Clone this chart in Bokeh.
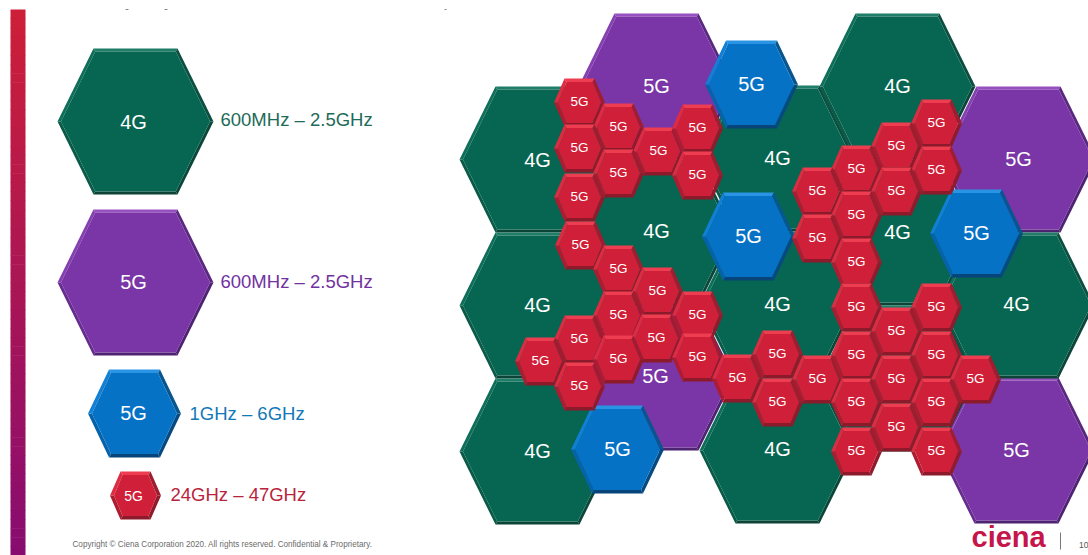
from bokeh.plotting import figure
from bokeh.models import Range1d, ColumnDataSource
from bokeh.core.properties import value
from bokeh.embed import file_html
from bokeh.resources import INLINE

# Centres of the cells
purple_x = [656, 1018, 656, 1016]
purple_y = [86, 159, 377, 450]
green_x = [537, 777, 897, 656, 897, 537, 777, 1016, 537, 777, 897]
green_y = [159, 158, 86, 232, 232, 305, 304, 305, 451, 450, 378]
green_label_x = [537, 777, 897, 656, 897, 537, 777, 1016, 537, 777]
green_label_y = [160, 158, 86, 231, 232, 305, 304, 304, 451, 449]
purple_label_x = [656, 1018, 655, 1016]
purple_label_y = [86, 159, 376, 450]
blue_x = [751, 748, 976, 617]
blue_y = [84, 236, 233, 449]
red_x = [579, 618, 579, 658, 697, 618, 697, 579, 580, 618, 657, 618, 697, 579, 656,
         540, 618, 697, 579, 737, 777, 817, 777,
         936, 896, 856, 817, 936, 896, 856, 817, 856,
         856, 936, 896, 856, 936, 896, 975, 856, 936, 896, 856, 936]
red_y = [102, 127, 148, 151, 128, 173, 175, 197, 245, 269, 291, 315, 315, 339, 338,
         361, 359, 357, 386, 378, 354, 379, 402,
         123, 146, 169, 191, 170, 191, 215, 238, 262,
         307, 307, 331, 355, 355, 379, 379, 402, 402, 427, 451, 451]

# Key on the left
key_band = ["600MHz – 2.5GHz", "600MHz – 2.5GHz", "1GHz – 6GHz", "24GHz – 47GHz"]
key_x = [135, 135, 134, 135]
key_y = [121, 282, 413, 495]
key_label = ["4G", "5G", "5G", "5G"]
key_label_x = [133, 133, 133, 133]
key_label_y = [122, 282, 413, 496]
key_text_x = [220, 220, 189, 170]
key_text_y = [120, 282, 414, 495]
key_text_color = ["#1d6b58", "#7232a0", "#1278b8", "#b9233b"]

SIZES = {"big": (78, 42, 73, 3.0), "blue": (46.5, 25.5, 44, 3.5), "red": (25.5, 15, 24, 3.5)}
PALETTE = {  # face, top, upper-left, lower-left, bottom, lower-right, upper-right
    "green": ("#076651", "#1f7d68", "#0e6e59", "#0a5a48", "#0c4437", "#0c4639", "#0c4f40"),
    "purple": ("#7a35a6", "#9650c0", "#843fb0", "#662c8e", "#4d2270", "#4f2374", "#5a2880"),
    "blue": ("#0672c6", "#2a94e4", "#1180d4", "#0663aa", "#07447a", "#074a82", "#07568f"),
    "red": ("#d01f38", "#ee3d50", "#dd2c42", "#ad1c30", "#8c1a2a", "#8f1b2c", "#a01c2f"),
}


def add_hex(xs, ys, colors, cx, cy, size, palette):
    hw, ht, hh, b = SIZES[size]
    face, *bevels = PALETTE[palette]
    outer = [(-ht, -hh), (ht, -hh), (hw, 0), (ht, hh), (-ht, hh), (-hw, 0)]
    ihw, iht, ihh = hw - b * 1.15, ht - b * 0.58, hh - b
    inner = [(-iht, -ihh), (iht, -ihh), (ihw, 0), (iht, ihh), (-iht, ihh), (-ihw, 0)]
    # edge index -> shade: top, upper-right, lower-right, bottom, lower-left, upper-left
    shade = [bevels[0], bevels[5], bevels[4], bevels[3], bevels[2], bevels[1]]
    for i in range(6):
        j = (i + 1) % 6
        xs.append([cx + outer[i][0], cx + outer[j][0], cx + inner[j][0], cx + inner[i][0]])
        ys.append([cy + outer[i][1], cy + outer[j][1], cy + inner[j][1], cy + inner[i][1]])
        colors.append(shade[i])
    xs.append([cx + x for x, _ in inner])
    ys.append([cy + y for _, y in inner])
    colors.append(face)


xs, ys, colors = [], [], []
for cx, cy in zip(purple_x, purple_y):
    add_hex(xs, ys, colors, cx, cy, "big", "purple")
for cx, cy in zip(green_x, green_y):
    add_hex(xs, ys, colors, cx, cy, "big", "green")
for cx, cy in zip(blue_x, blue_y):
    add_hex(xs, ys, colors, cx, cy, "blue", "blue")
for cx, cy in zip(red_x, red_y):
    add_hex(xs, ys, colors, cx, cy, "red", "red")
key_shapes = [("big", "green"), ("big", "purple"), ("blue", "blue"), ("red", "red")]
for cx, cy, (size, pal) in zip(key_x, key_y, key_shapes):
    add_hex(xs, ys, colors, cx, cy, size, pal)

p = figure(width=1088, height=555, output_backend="svg", toolbar_location=None,
           x_range=Range1d(0, 1088), y_range=Range1d(555, 0),
           x_axis_type=None, y_axis_type=None, min_border=0, outline_line_color=None,
           background_fill_color="white", border_fill_color="white")
p.grid.visible = False

# Side bar gradient
bar_top = (205, 31, 56)
bar_bottom = (136, 12, 112)
steps = 60
bar_y = [9 + i * (555 - 9) / steps for i in range(steps + 1)]
bar_colors = []
for i in range(steps):
    t = i / (steps - 1)
    bar_colors.append("#%02x%02x%02x" % tuple(round(a + (b - a) * t) for a, b in zip(bar_top, bar_bottom)))
p.quad(left=10, right=25, top=bar_y[:-1], bottom=[y + 0.5 for y in bar_y[1:]],
       fill_color=bar_colors, line_color=None)

p.patches(xs=xs, ys=ys, fill_color=colors, line_color=None)


def labels(x, y, text, size, color="white", align="center", font="Liberation Sans", style="normal"):
    src = ColumnDataSource(dict(x=x, y=y, text=text))
    p.text(x="x", y="y", text="text", source=src, text_font=value(font), text_font_size=size,
           text_color=color, text_align=align, text_baseline="middle", text_font_style=style,
           y_offset=-1)


labels(green_label_x, green_label_y, ["4G"] * len(green_label_x), "20px")
labels(purple_label_x, purple_label_y, ["5G"] * len(purple_label_x), "20px")
labels(blue_x, blue_y, ["5G"] * len(blue_x), "20px")
labels(red_x, red_y, ["5G"] * len(red_x), "13.5px")
labels(key_label_x[:3], key_label_y[:3], key_label[:3], "20px")
labels(key_label_x[3:], key_label_y[3:], key_label[3:], "14px")
for tx, ty, tt, tc in zip(key_text_x, key_text_y, key_band, key_text_color):
    labels([tx], [ty], [tt], "18.5px", color=tc, align="left")

labels([72], [545], ["Copyright © Ciena Corporation 2020. All rights reserved. Confidential & Proprietary."],
       "8.15px", color="#6b6b6b", align="left")
labels([971], [537], ["ciena"], "29px", color="#c5154b", align="left", style="bold")
labels([1078.5], [545], ["10"], "8.5px", color="#555555", align="left")
p.segment(x0=[1060], y0=[532], x1=[1060], y1=[549], line_color="#777777", line_width=1)
p.segment(x0=[125, 164, 444], y0=[9, 9, 9], x1=[128, 167, 446], y1=[9, 9, 9], line_color="#888888", line_width=1)

open("out.html", "w").write(file_html(p, INLINE))
